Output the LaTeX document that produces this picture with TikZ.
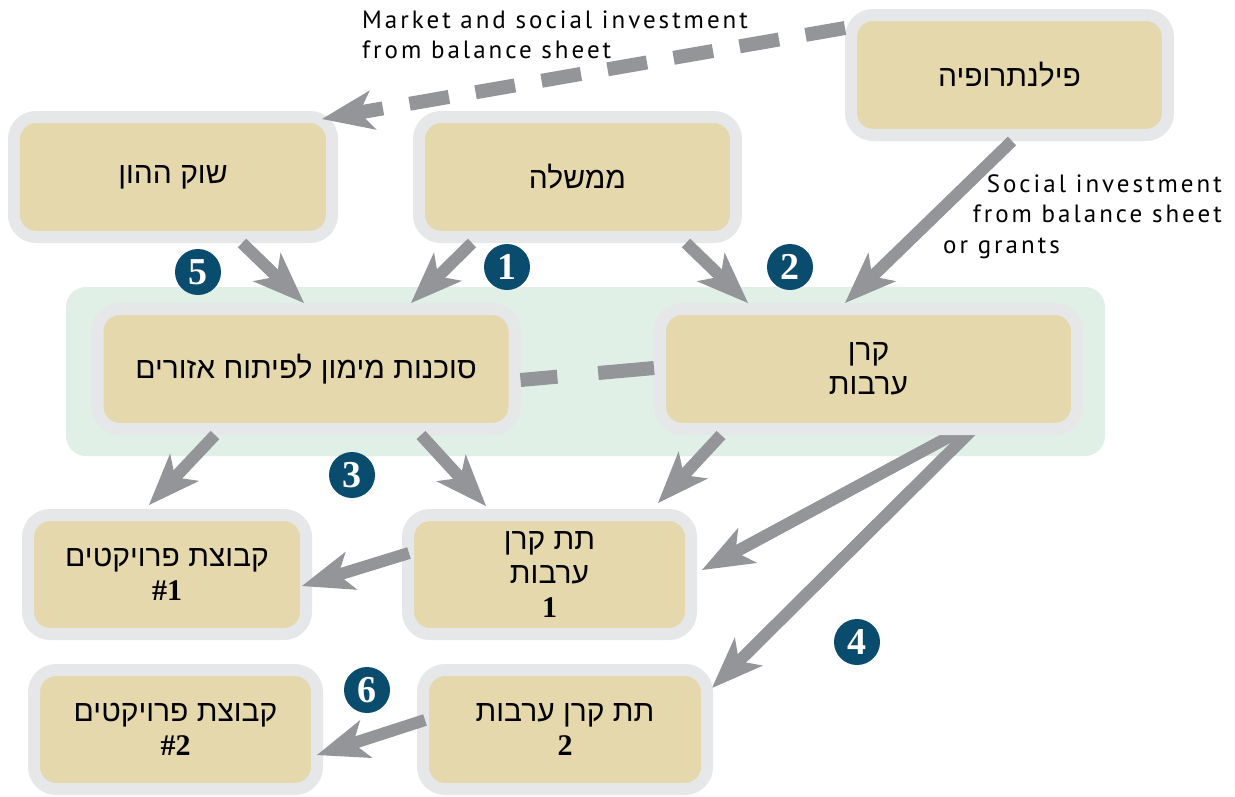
\documentclass[tikz,border=0pt]{standalone}
\usepackage{fontspec}
\setmainfont{Liberation Serif}
\newfontfamily\hebfont[Script=Hebrew]{Liberation Sans}
\newfontfamily\labfont[LetterSpace=12]{PT Sans}
\TeXXeTstate=1
\usetikzlibrary{arrows.meta,calc}
\definecolor{beige}{HTML}{E4D8AC}
\definecolor{bordergray}{HTML}{E6E7E8}
\definecolor{arrowgray}{HTML}{939598}
\definecolor{greenbg}{HTML}{E1F0E6}
\definecolor{darkblue}{HTML}{0A4C6E}
\begin{document}
\begin{tikzpicture}[x=1pt,y=-1pt,
  box/.style={draw=bordergray, line width=12pt, fill=beige, rounded corners=22pt,
    inner sep=0pt, outer sep=0pt, align=center,
    font=\hebfont\fontsize{30}{34}\selectfont},
  arr/.style={draw=arrowgray, line width=12pt,
    -{Stealth[length=52pt, width=40pt, inset=14pt, line width=0pt]}},
  dasharr/.style={draw=arrowgray, line width=14pt, dash pattern=on 40pt off 27pt,
    -{Stealth[length=52pt, width=40pt, inset=14pt, line width=0pt]}},
  dashline/.style={draw=arrowgray, line width=14pt, dash pattern=on 37pt off 41pt on 60pt off 10pt},
  num/.style={circle, fill=darkblue, minimum size=46pt, inner sep=0pt, text=white,
    font=\fontsize{38}{38}\selectfont\bfseries},
  lab/.style={inner sep=0pt, font=\labfont\fontsize{25}{28}\selectfont},
  digits/.style={}]
\useasboundingbox (0,0) rectangle (1235,796);

% green background
\fill[greenbg, rounded corners=20pt] (66,287) rectangle (1105,456);

% boxes
\node[box, minimum width=318pt, minimum height=120pt] (cap) at (173,177) {\beginR שוק ההון\endR};
\node[box, minimum width=317pt, minimum height=120pt] (gov) at (577.5,177) {\beginR ממשלה\endR};
\node[box, minimum width=317pt, minimum height=120pt] (phil) at (1009.5,75) {\beginR פילנתרופיה\endR};

% V arrows from fund (drawn beneath boxes)
\coordinate (vtop) at (984,418);
\draw[arr] (vtop) -- (702,570) coordinate (t4a);
\draw[arr] (vtop) -- (712,688) coordinate (t4b);

\node[box, minimum width=417pt, minimum height=120pt] (agency) at (306,369) {\beginR סוכנות מימון לפיתוח אזורים\endR};
\node[box, minimum width=417pt, minimum height=120pt] (fund) at (868.5,369) {\beginR קרן\endR\\\beginR ערבות\endR};
\node[box, minimum width=278pt, minimum height=119pt] (proj1) at (167,574.5) {\beginR קבוצת פרויקטים\endR\\\rmfamily\bfseries \#1};
\node[box, minimum width=283pt, minimum height=119pt] (sub1) at (549.5,574.5) {\beginR תת קרן\endR\\\beginR ערבות\endR\\\rmfamily\bfseries 1};
\node[box, minimum width=283pt, minimum height=119pt] (proj2) at (175.5,729.5) {\beginR קבוצת פרויקטים\endR\\\rmfamily\bfseries \#2};
\node[box, minimum width=284pt, minimum height=119pt] (sub2) at (565,729.5) {\beginR תת קרן ערבות\endR\\\rmfamily\bfseries 2};

% arrows
\draw[arr] ($(cap.south)+(69,6)$) -- ($(agency.north)+(-2,-6)$);
\draw[arr] ($(gov.south)+(-105.5,6)$) -- ($(agency.north)+(105,-6)$);
\draw[arr] ($(gov.south)+(108.5,6)$) -- ($(fund.north)+(-120.5,-6)$);
\draw[arr] ($(phil.south)+(2.5,6)$) -- ($(fund.north)+(-23.5,-6)$);
\draw[dasharr] ($(phil.west)+(-6,-47)$) -- ($(cap.north east)+(-10,2)$);
\draw[dashline] ($(agency.east)+(6,11)$) -- ($(fund.west)+(-6,-1)$);
\draw[arr] ($(agency.south)+(-91,6)$) -- ($(proj1.north)+(-18,-10)$);
\draw[arr] ($(agency.south)+(115,6)$) -- ($(sub1.north)+(-63.5,-9)$);
\draw[arr] ($(fund.south)+(-147.5,6)$) -- ($(sub1.north)+(108.5,-12)$);
\draw[arr] ($(sub1.west)+(1,-21.5)$) -- ($(proj1.east)+(-4,11.5)$);
\draw[arr] ($(sub2.west)+(2,-9.5)$) -- ($(proj2.east)+(0,25.5)$);

% number badges
\node[num] (n5) at (198,272) {5};
\node[num] (n1) at (507,267) {1};
\node[num] (n2) at (790,267) {2};
\node[num] (n3) at (352,475) {3};
\node[num] (n4) at (857,642) {4};
\node[num] (n6) at (367,690) {6};

% labels
\node[lab, anchor=base west] (m1) at (362,28) {Market and social investment};
\node[lab, anchor=base west] (m2) at (362,58) {from balance sheet};
\node[lab, anchor=base east] (s1) at (1222,192) {Social investment};
\node[lab, anchor=base east] (s2) at (1222,222) {from balance sheet};
\node[lab, anchor=base west] (s3) at (943,253) {or grants};
\end{tikzpicture}
\end{document}
